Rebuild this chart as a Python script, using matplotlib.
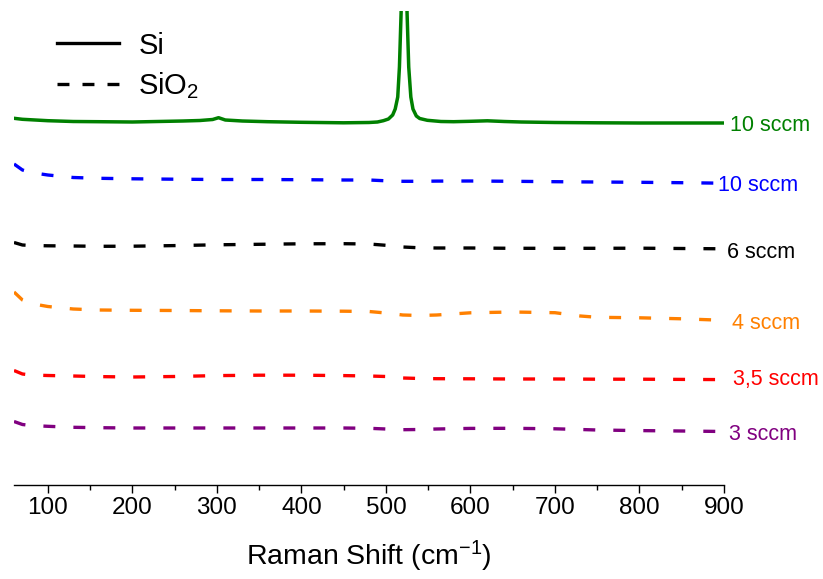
import matplotlib
matplotlib.use("Agg")
import matplotlib.pyplot as plt
from matplotlib.lines import Line2D

plt.rcParams["font.family"] = ["Liberation Sans", "DejaVu Sans"]
plt.rcParams["mathtext.fontset"] = "custom"
plt.rcParams["mathtext.rm"] = "Liberation Sans"
plt.rcParams["mathtext.default"] = "regular"
plt.rcParams["lines.scale_dashes"] = False

# ---- data (arbitrary intensity units, offset stacked) ----
x_si = [60, 70, 100, 130, 160, 200, 230, 260, 280, 295, 302, 310, 330, 360, 400,
        450, 480, 490, 497, 503, 508, 511, 514, 516, 518, 519.5, 521.5, 523.5, 525,
        527, 529.5, 532, 536, 540, 549, 565, 580, 600, 620, 640, 660, 700, 750, 800,
        850, 900]
si_10 = [366.7, 365.7, 364.3, 363.5, 363.3, 363, 363.5, 364, 364.5, 365.5, 367.3, 365,
         364, 363.3, 362.7, 362.2, 362.5, 363, 364.3, 366, 370, 376, 388, 418, 473,
         650, 900, 650, 473, 418, 388, 376, 369, 366.5, 364.7, 363.5, 363.3, 363.7,
         364.2, 363.5, 363, 362.5, 362.2, 362, 362, 362]

x_ox = [60, 70, 80, 100, 130, 160, 200, 250, 300, 350, 400, 450, 480, 500, 520,
        540, 560, 600, 650, 700, 730, 750, 800, 850, 900]
ox_10 = [321, 315, 312.5, 310, 307.5, 306.7, 306.2, 305.8, 305.5, 305.5, 305.3, 305,
         305, 304.2, 303.7, 303.7, 303.9, 304, 303.7, 303.3, 303.1, 303, 302.7, 302.3, 301.8]
ox_6 = [242.5, 240, 239.5, 239.2, 239, 238.7, 238.8, 239.4, 240.2, 240.7, 241.2, 241.3,
        241, 239.7, 238, 237.2, 237, 237, 236.7, 236.7, 236.7, 236.7, 236.8, 236.5, 236.2]
ox_4 = [193, 185, 181.5, 178.5, 176, 175, 174.7, 174.5, 174.2, 174, 174, 173.8, 173.5,
        172, 170, 169.5, 170, 172.2, 173, 172.3, 169, 167.7, 167.2, 166.2, 164.7]
ox_35 = [114.5, 111, 110, 109.5, 109, 108.4, 108, 108.5, 109.4, 109.8, 109.8, 109.4,
         109, 108.5, 107, 106.5, 106.3, 106.2, 106, 106, 105.9, 105.8, 105.8, 105.6, 105.4]
ox_3 = [63.5, 60.5, 59.5, 58.7, 57.7, 57.3, 57, 57, 57, 57, 57, 57, 56.7, 56, 55.3,
        55.5, 56, 56.6, 56.7, 56.2, 55.5, 55, 54.4, 54, 53.5]

labels = ["10 sccm", "10 sccm", "6 sccm", "4 sccm", "3,5 sccm", "3 sccm"]
colors = ["#008000", "#0000ff", "#000000", "#ff8000", "#ff0000", "#800080"]
label_x = [907, 893, 904, 909, 910.5, 906]
label_y = [360, 300, 233, 162, 106, 51]

fig = plt.figure(figsize=(8.23, 5.79), dpi=100)
ax = fig.add_axes([14/823, 1 - 485/579, 710/823, 474/579])

ax.plot(x_si, si_10, color=colors[0], lw=2.5, solid_joinstyle="round")
dash = (0, (8.6, 13))
for ys, c in zip([ox_10, ox_6, ox_4, ox_35, ox_3], colors[1:]):
    ax.plot(x_ox, ys, color=c, lw=2.4, linestyle=dash)

for lx, ly, t, c in zip(label_x, label_y, labels, colors):
    ax.text(lx, ly, t, color=c, fontsize=15.5, ha="left", va="center", clip_on=False)

ax.set_xlim(60, 900)
ax.set_ylim(0, 474)
ax.set_xticks(range(100, 901, 100))
ax.set_xticks(range(150, 900, 100), minor=True)
ax.tick_params(axis="x", which="major", length=6, width=1, labelsize=17.5, pad=3)
ax.tick_params(axis="x", which="minor", length=3.3, width=1)
ax.set_yticks([])
for s in ["top", "left", "right"]:
    ax.spines[s].set_visible(False)
ax.spines["bottom"].set_linewidth(1)
ax.set_xlabel("Raman Shift (cm$^{-1}$)", fontsize=20.5, labelpad=14)

handles = [Line2D([], [], color="black", lw=2.4),
           Line2D([], [], color="black", lw=2.4, linestyle=(0, (8.6, 9.4)))]
ax.legend(handles, ["Si", "SiO$_2$"], loc="upper left", frameon=False,
          fontsize=21, handlelength=2.15, handletextpad=0.65, labelspacing=0.35,
          borderpad=0, bbox_to_anchor=(42/823, 1 - 17/579), bbox_transform=fig.transFigure)

fig.savefig("out.png", dpi=100)
